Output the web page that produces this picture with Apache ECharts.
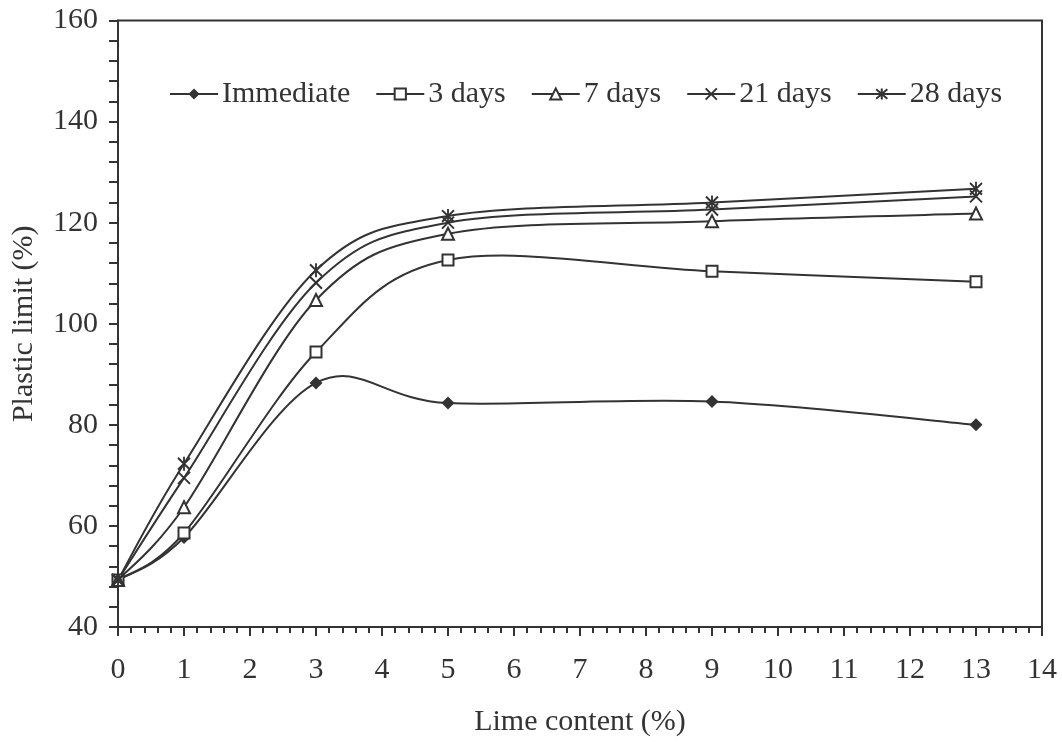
<!DOCTYPE html>
<html>
<head>
<meta charset="utf-8">
<script src="https://cdn.jsdelivr.net/npm/echarts@6/dist/echarts.min.js"></script>
<style>
  html, body { margin: 0; padding: 0; background: #fff; }
  #chart { width: 1062px; height: 742px; }
</style>
</head>
<body>
<div id="chart"></div>
<script>
// Lime content (%) at which the plastic limit was measured
const limeContent = [0, 1, 3, 5, 9, 13];

// Plastic limit (%) for each curing period
const immediate = [49.3, 57.7, 88.3, 84.3, 84.6, 80.0];
const days3     = [49.3, 58.6, 94.4, 112.6, 110.4, 108.3];
const days7     = [49.3, 63.7, 104.7, 117.8, 120.3, 121.8];
const days21    = [49.3, 69.5, 108.1, 120.0, 122.6, 125.2];
const days28    = [49.3, 72.3, 110.6, 121.3, 124.0, 126.7];

const seriesNames = ['Immediate', '3 days', '7 days', '21 days', '28 days'];

const INK = '#333333';
const FONT = '"Liberation Serif", "Times New Roman", serif';

const pairs = ys => limeContent.map((x, i) => [x, ys[i]]);

// marker shapes: filled diamond, open square, open triangle, cross, asterisk
const markers = [
  { symbol: 'diamond', size: 13, item: { color: INK, borderWidth: 0 } },
  { symbol: 'rect', size: 11, item: { color: '#fff', borderColor: INK, borderWidth: 2 } },
  { symbol: 'triangle', size: 12, item: { color: '#fff', borderColor: INK, borderWidth: 2 } },
  { symbol: 'path://M0,0L10,10M10,0L0,10', size: 12, item: { color: 'none', borderColor: INK, borderWidth: 2 } },
  { symbol: 'path://M0,1L10,11M10,1L0,11M5,0L5,12', size: [12, 14], item: { color: 'none', borderColor: INK, borderWidth: 2 } }
];

const values = [immediate, days3, days7, days21, days28];

// Smooth curve through the measured points (cardinal spline, tangent = (next - prev) / 6),
// built in pixel space from the axis scales.
function splineRenderer(ys) {
  return function (params, api) {
    if (params.dataIndex !== 0) return null;
    const p = ys.map((y, i) => api.coord([limeContent[i], y]));
    const n = p.length;
    const children = [];
    for (let i = 0; i < n - 1; i++) {
      const p0 = p[Math.max(i - 1, 0)];
      const p1 = p[i];
      const p2 = p[i + 1];
      const p3 = p[Math.min(i + 2, n - 1)];
      children.push({
        type: 'bezierCurve',
        shape: {
          x1: p1[0], y1: p1[1],
          cpx1: p1[0] + (p2[0] - p0[0]) / 6, cpy1: p1[1] + (p2[1] - p0[1]) / 6,
          cpx2: p2[0] - (p3[0] - p1[0]) / 6, cpy2: p2[1] - (p3[1] - p1[1]) / 6,
          x2: p2[0], y2: p2[1]
        },
        style: { stroke: INK, lineWidth: 2, fill: null }
      });
    }
    return { type: 'group', children: children };
  };
}

const series = [];
values.forEach((ys, k) => {
  series.push({
    name: seriesNames[k],
    type: 'line',
    data: pairs(ys),
    symbol: markers[k].symbol,
    symbolSize: markers[k].size,
    showAllSymbol: true,
    lineStyle: { color: INK, width: 2, opacity: 0 },
    itemStyle: markers[k].item,
    emphasis: { disabled: true },
    z: 5 + k
  });
});
values.forEach((ys, k) => {
  series.push({
    name: seriesNames[k],
    type: 'custom',
    data: [0],
    renderItem: splineRenderer(ys),
    silent: true,
    z: 2
  });
});

const chart = echarts.init(document.getElementById('chart'), null, { renderer: 'canvas' });

chart.setOption({
  animation: false,
  backgroundColor: '#fff',
  textStyle: { fontFamily: FONT, color: INK },
  grid: {
    left: 118, right: 20, top: 20.5, bottom: 113.5,
    show: true, borderColor: INK, borderWidth: 2, backgroundColor: 'transparent'
  },
  legend: {
    left: 164, top: 74,
    itemWidth: 48, itemHeight: 14, itemGap: 25,
    lineStyle: { color: INK, width: 2, opacity: 1 },
    textStyle: { fontFamily: FONT, fontSize: 30, color: INK, padding: [0, 0, 0, -1] },
    data: seriesNames
  },
  xAxis: {
    type: 'value', min: 0, max: 14, interval: 1,
    name: 'Lime content (%)', nameLocation: 'middle', nameGap: 80,
    nameTextStyle: { fontFamily: FONT, fontSize: 30, color: INK },
    axisLine: { show: true, lineStyle: { color: INK, width: 2 } },
    axisTick: { show: true, inside: false, length: 9, lineStyle: { color: INK, width: 2 } },
    minorTick: { show: true, splitNumber: 5, length: 6, lineStyle: { color: INK, width: 2 } },
    axisLabel: { fontFamily: FONT, fontSize: 30, color: INK, margin: 28 },
    splitLine: { show: false }
  },
  yAxis: {
    type: 'value', min: 40, max: 160, interval: 20,
    name: 'Plastic limit (%)', nameLocation: 'middle', nameGap: 79,
    nameTextStyle: { fontFamily: FONT, fontSize: 30, color: INK },
    axisLine: { show: true, lineStyle: { color: INK, width: 2 } },
    axisTick: { show: true, inside: false, length: 9, lineStyle: { color: INK, width: 2 } },
    minorTick: { show: true, splitNumber: 5, length: 9, lineStyle: { color: INK, width: 2 } },
    axisLabel: { fontFamily: FONT, fontSize: 30, color: INK, margin: 20 },
    splitLine: { show: false }
  },
  series: series
});
</script>
</body>
</html>
